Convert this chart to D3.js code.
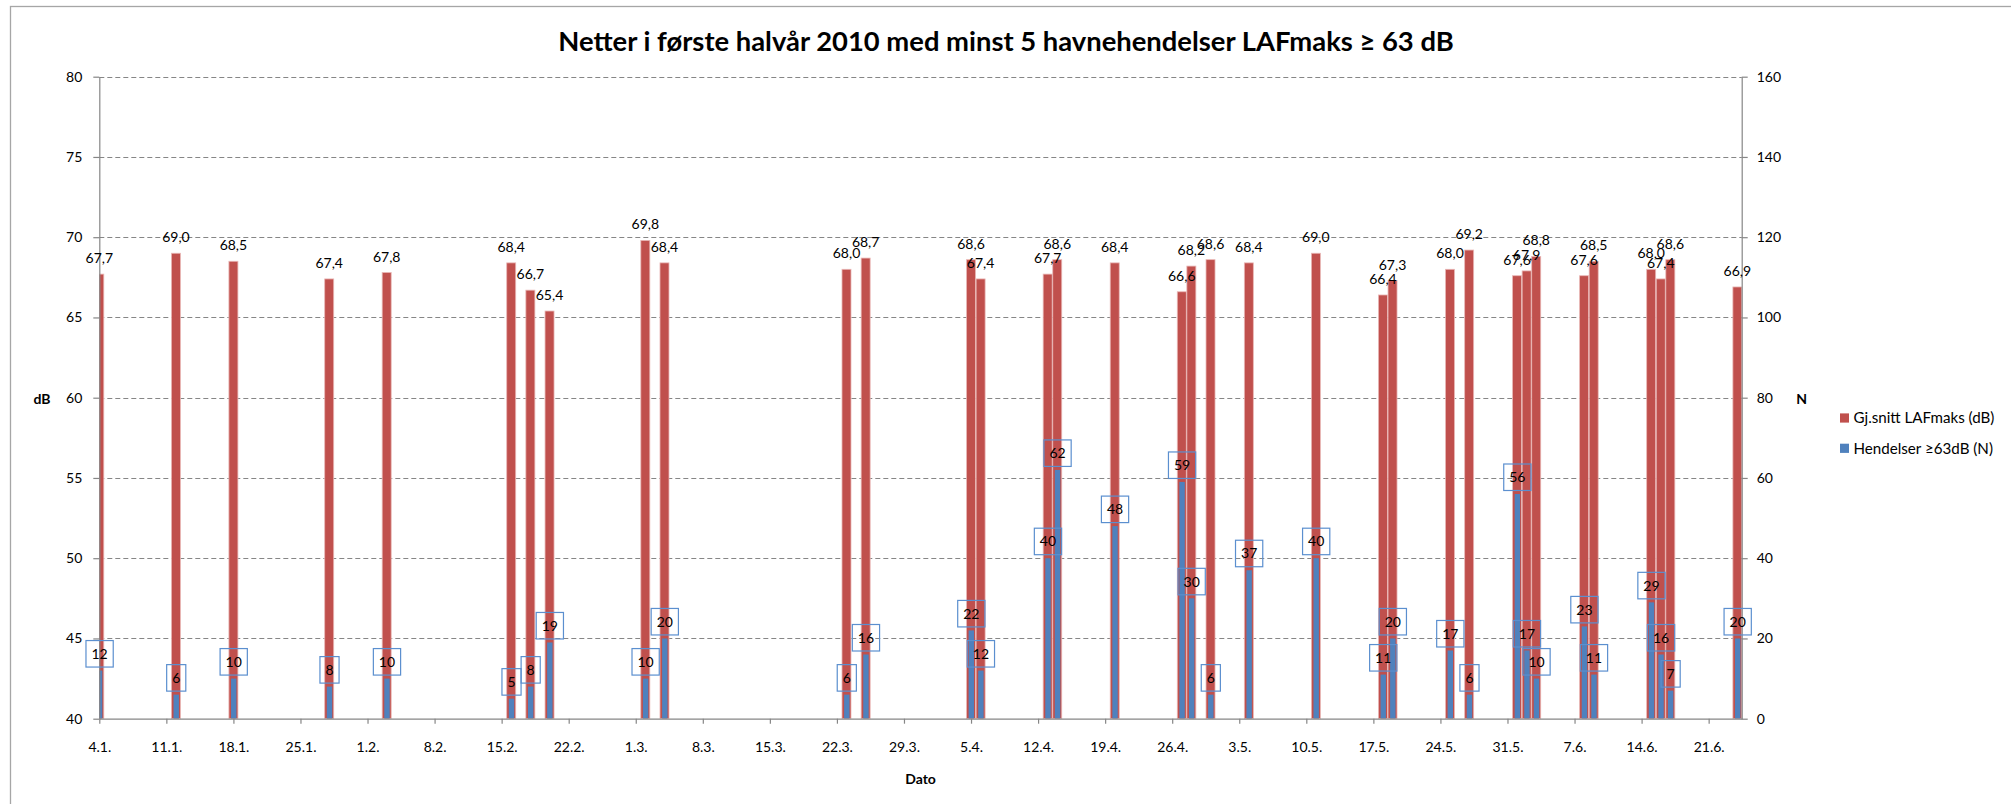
<!DOCTYPE html>
<html>
<head>
<meta charset="utf-8">
<script src="https://cdn.jsdelivr.net/npm/d3@7"></script>
<style>
  body { margin: 0; background: #fff; }
  svg { display: block; font-family: Lato, "Open Sans", sans-serif; }
</style>
</head>
<body>
<div class="chart"></div>
<script>
const w = 2011;
const h = 804;

// nights (date), mean LAFmax in dB, number of events >= 63 dB
const dates = [
    "2010-01-04", "2010-01-12", "2010-01-18", "2010-01-28", "2010-02-03",
    "2010-02-16", "2010-02-18", "2010-02-20", "2010-03-02", "2010-03-04",
    "2010-03-23", "2010-03-25", "2010-04-05", "2010-04-06", "2010-04-13",
    "2010-04-14", "2010-04-20", "2010-04-27", "2010-04-28", "2010-04-30",
    "2010-05-04", "2010-05-11", "2010-05-18", "2010-05-19", "2010-05-25",
    "2010-05-27", "2010-06-01", "2010-06-02", "2010-06-03", "2010-06-08",
    "2010-06-09", "2010-06-15", "2010-06-16", "2010-06-17", "2010-06-24"
];
const lafmaks = [
    67.7, 69.0, 68.5, 67.4, 67.8,
    68.4, 66.7, 65.4, 69.8, 68.4,
    68.0, 68.7, 68.6, 67.4, 67.7,
    68.6, 68.4, 66.6, 68.2, 68.6,
    68.4, 69.0, 66.4, 67.3, 68.0,
    69.2, 67.6, 67.9, 68.8, 67.6,
    68.5, 68.0, 67.4, 68.6, 66.9
];
const hendelser = [
    12, 6, 10, 8, 10,
    5, 8, 19, 10, 20,
    6, 16, 22, 12, 40,
    62, 48, 59, 30, 6,
    37, 40, 11, 20, 17,
    6, 56, 17, 10, 23,
    11, 29, 16, 7, 20
];
const dbTicks = [40, 45, 50, 55, 60, 65, 70, 75, 80];
const nTicks = [0, 20, 40, 60, 80, 100, 120, 140, 160];
const seriesNames = ["Gj.snitt LAFmaks (dB)", "Hendelser \u226563dB (N)"];
const title = "Netter i første halvår 2010 med minst 5 havnehendelser LAFmaks \u2265 63 dB";

const red = "#C0504D";
const blue = "#4F81BD";
const grey = "#868686";
const fs = "14px";

const plotL = 99.3, plotR = 1741.7, plotT = 76.7, plotB = 718.7;

const parse = d3.utcParse("%Y-%m-%d");
const data = dates.map((d, i) => ({ date: parse(d), db: lafmaks[i], n: hendelser[i] }));

const start = parse("2010-01-04");
const end = new Date(parse("2010-06-24").getTime() + 0.45 * 864e5);

const x = d3.scaleUtc().domain([start, end]).range([plotL, plotR]);
const yL = d3.scaleLinear().domain([40, 80]).range([plotB, plotT]);
const yR = d3.scaleLinear().domain([0, 160]).range([plotB, plotT]);

const nb = d3.formatLocale({ decimal: ",", thousands: " ", grouping: [3], currency: ["", ""] });
const fmt = nb.format(".1f");

const svg = d3.select(".chart")
    .append("svg")
    .attr("width", w)
    .attr("height", h);

svg.append("rect")
    .attr("width", w).attr("height", h)
    .attr("fill", "#fff");

// outer chart frame (only top and left edge are inside the picture)
svg.append("rect")
    .attr("x", 10.5).attr("y", 6.5)
    .attr("width", w + 20).attr("height", h + 20)
    .attr("fill", "none")
    .attr("stroke", "#a6a6a6")
    .attr("stroke-width", 1.3);

svg.append("defs").append("clipPath")
    .attr("id", "plot")
    .append("rect")
    .attr("x", plotL).attr("y", plotT - 1)
    .attr("width", plotR - plotL).attr("height", plotB - plotT + 1);

// gridlines
svg.append("g")
    .selectAll("line")
    .data(dbTicks.slice(1))
    .enter()
    .append("line")
    .attr("x1", plotL).attr("x2", plotR)
    .attr("y1", d => Math.round(yL(d)) + 0.5)
    .attr("y2", d => Math.round(yL(d)) + 0.5)
    .attr("stroke", grey)
    .attr("stroke-dasharray", "5,3");

const bars = svg.append("g").attr("clip-path", "url(#plot)");

bars.selectAll(".db")
    .data(data)
    .enter()
    .append("rect")
    .attr("class", "db")
    .attr("x", d => x(d.date) - 4.5)
    .attr("width", 9)
    .attr("y", d => yL(d.db))
    .attr("height", d => plotB - yL(d.db))
    .attr("fill", red)
    .attr("stroke", "#e9b7b6")
    .attr("stroke-width", 0.8);

bars.selectAll(".n")
    .data(data)
    .enter()
    .append("rect")
    .attr("class", "n")
    .attr("x", d => x(d.date) - 2.4)
    .attr("width", 5.4)
    .attr("y", d => yR(d.n))
    .attr("height", d => plotB - yR(d.n))
    .attr("fill", blue);

// axes
const axisL = svg.append("g")
    .attr("transform", `translate(${plotL},0)`)
    .call(d3.axisLeft(yL).tickValues(dbTicks).tickSize(6).tickSizeOuter(0).tickPadding(11));

const axisR = svg.append("g")
    .attr("transform", `translate(${plotR},0)`)
    .call(d3.axisRight(yR).tickValues(nTicks).tickSize(6).tickSizeOuter(0).tickPadding(9));

const axisB = svg.append("g")
    .attr("transform", `translate(0,${plotB})`)
    .call(d3.axisBottom(x)
        .tickValues(d3.utcMonday.range(start, end))
        .tickFormat(d3.utcFormat("%-d.%-m."))
        .tickSize(5).tickSizeOuter(0).tickPadding(18));

[axisL, axisR, axisB].forEach(a => {
    a.selectAll("path, line").attr("stroke", grey).attr("stroke-width", 1.2);
    a.selectAll("text")
        .attr("fill", "#000")
        .style("font-size", fs)
        .style("font-family", "Lato, sans-serif");
});

// data labels, dB series
svg.append("g")
    .selectAll("text")
    .data(data)
    .enter()
    .append("text")
    .attr("x", d => x(d.date))
    .attr("y", d => yL(d.db) - 11)
    .attr("text-anchor", "middle")
    .style("font-size", fs)
    .text(d => fmt(d.db));

// data labels, event counts (boxed)
const nl = svg.append("g")
    .selectAll("g")
    .data(data)
    .enter()
    .append("g")
    .attr("transform", d => `translate(${x(d.date) + 0.3},${yR(d.n) - 3.5})`);

nl.append("text")
    .attr("y", -13.2)
    .attr("dy", "0.35em")
    .attr("text-anchor", "middle")
    .style("font-size", fs)
    .text(d => d.n);

nl.each(function () {
    const g = d3.select(this);
    const tw = g.select("text").node().getComputedTextLength();
    g.insert("rect", "text")
        .attr("x", -tw / 2 - 5.5)
        .attr("y", -26.5)
        .attr("width", tw + 11)
        .attr("height", 26.5)
        .attr("fill", "none")
        .attr("stroke", "#5B8FCF")
        .attr("stroke-width", 1.2);
});

// axis titles
svg.append("text")
    .attr("x", 42).attr("y", 399).attr("dy", "0.35em")
    .attr("text-anchor", "middle")
    .style("font-size", fs).style("font-weight", "bold")
    .text("dB");

svg.append("text")
    .attr("x", 1801.7).attr("y", 399.5).attr("dy", "0.35em")
    .attr("text-anchor", "middle")
    .style("font-size", fs).style("font-weight", "bold")
    .text("N");

svg.append("text")
    .attr("x", (plotL + plotR) / 2).attr("y", 779).attr("dy", "0.35em")
    .attr("text-anchor", "middle")
    .style("font-size", fs).style("font-weight", "bold")
    .text("Dato");

// title, fitted to the width it has in the original
const t = svg.append("text")
    .attr("x", w / 2 + 0.5).attr("y", 50.5)
    .attr("text-anchor", "middle")
    .style("font-weight", "bold")
    .style("font-size", "28px")
    .text(title);
const titleW = t.node().getComputedTextLength();
t.style("font-size", (28 * 896 / titleW) + "px");

// legend
const legend = svg.append("g")
    .attr("transform", "translate(1840,418)")
    .selectAll("g")
    .data(seriesNames)
    .enter()
    .append("g")
    .attr("transform", (d, i) => `translate(0,${i * 30.3})`);

legend.append("rect")
    .attr("y", -4.6)
    .attr("width", 9)
    .attr("height", 9.2)
    .attr("fill", (d, i) => i === 0 ? red : blue);

const legText = legend.append("text")
    .attr("x", 13.5)
    .attr("dy", "0.35em")
    .style("font-size", "14px")
    .text(d => d);

// legend text set to the width of the first entry in the original
const legW = legText.node().getComputedTextLength();
legText.style("font-size", (14 * 141 / legW) + "px");
</script>
</body>
</html>
